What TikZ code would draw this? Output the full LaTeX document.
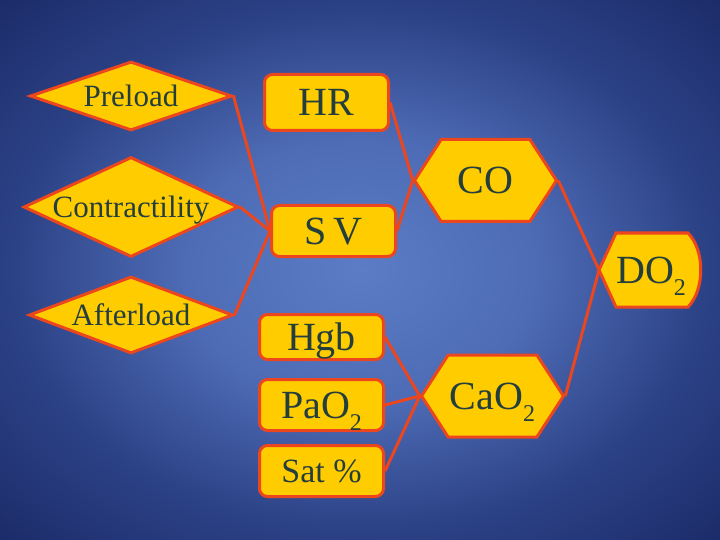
\documentclass[tikz,border=0pt]{standalone}
\usepackage{fontspec}
\setmainfont{Liberation Serif}
\usetikzlibrary{shapes,positioning}
\definecolor{boxfill}{RGB}{255,204,0}
\definecolor{boxline}{RGB}{236,70,30}
\definecolor{txt}{RGB}{36,62,62}
\definecolor{bgin}{RGB}{92,124,198}
\definecolor{bgmid}{RGB}{78,108,182}
\definecolor{bgdark}{RGB}{44,66,134}
\definecolor{bgout}{RGB}{27,42,104}
\pgfdeclareradialshading{slidebg}{\pgfpoint{0bp}{0bp}}{color(0bp)=(bgin); color(12bp)=(bgmid); color(24bp)=(bgdark); color(36bp)=(bgout); color(50bp)=(bgout)}
\newcommand{\subtxt}[1]{\raisebox{-0.3em}{\fontsize{24}{24}\selectfont #1}}
\tikzset{edge/.style = {draw=boxline, line width=3pt}}
\begin{document}
\begin{tikzpicture}[x=1pt,y=-1pt,
  factor/.style={diamond, draw=boxline, fill=boxfill, line width=3pt, text=txt, inner sep=0pt,
    font=\fontsize{31}{31}\selectfont, text height=20.5pt, text depth=0pt},
  box/.style={rectangle, rounded corners=8pt, draw=boxline, fill=boxfill, line width=3pt, text=txt,
    minimum width=124pt, font=\fontsize{40}{40}\selectfont, text height=26.5pt, text depth=0pt},
  hexa/.style={signal, signal to=west and east, signal pointer angle=114, draw=boxline, fill=boxfill,
    line width=3pt, text=txt, minimum width=142pt, minimum height=82pt, inner sep=0pt,
    font=\fontsize{40}{40}\selectfont, text height=26.5pt, text depth=0pt}]
%slide background
\shade[shading=slidebg] (0,0) rectangle (720,540);
%what sets the stroke volume
\node[factor, aspect=2.85, minimum width=202pt, minimum height=69pt] (preload) at (131,96) {Preload};
\node[factor, aspect=2.12, minimum width=215pt, minimum height=100pt] (contract) at (131,207) {Contractility};
\node[factor, aspect=2.6, minimum width=204pt, minimum height=77pt] (afterload) at (131,315) {Afterload};
%cardiac output
\node[box, minimum height=56pt] (hr) at (326.5,102.5) {HR};
\node[box, minimum height=51pt] (sv) at (333.5,231) {S\,V};
\node[hexa] (co) at (485.5,180.5) {CO};
%oxygen content
\node[box, minimum height=45pt] (hgb) at (321.5,337) {Hgb};
\node[box, minimum height=51pt] (pao2) at (321.5,405) {PaO\subtxt{2}};
\node[box, minimum height=51pt, font=\fontsize{34}{34}\selectfont, text height=22.5pt] (sat) at (321.5,471) {Sat \%};
\node[hexa] (cao2) at (492.5,396) {CaO\subtxt{2}};
%oxygen delivery
\draw[line width=3pt, draw=boxline, fill=boxfill] (599,270) -- (616,233) -- (688,233)
  .. controls (705,250) and (705,290) .. (688,307) -- (616,307) -- cycle;
\coordinate (do2w) at (599,270);
\node[text=txt, font=\fontsize{40}{40}\selectfont, text height=26.5pt, text depth=0pt] (do2) at (651,270) {DO\subtxt{2}};
%connectors
\draw[edge] (preload.east) -- (sv.west);
\draw[edge] (contract.east) -- (sv.west);
\draw[edge] (afterload.east) -- (sv.west);
\draw[edge] (hr.east) -- (co.west);
\draw[edge] (sv.east) -- (co.west);
\draw[edge] (hgb.east) -- (cao2.west);
\draw[edge] (pao2.east) -- (cao2.west);
\draw[edge] (sat.east) -- (cao2.west);
\draw[edge] (co.east) -- (do2w);
\draw[edge] (cao2.east) -- (do2w);
\end{tikzpicture}
\end{document}
